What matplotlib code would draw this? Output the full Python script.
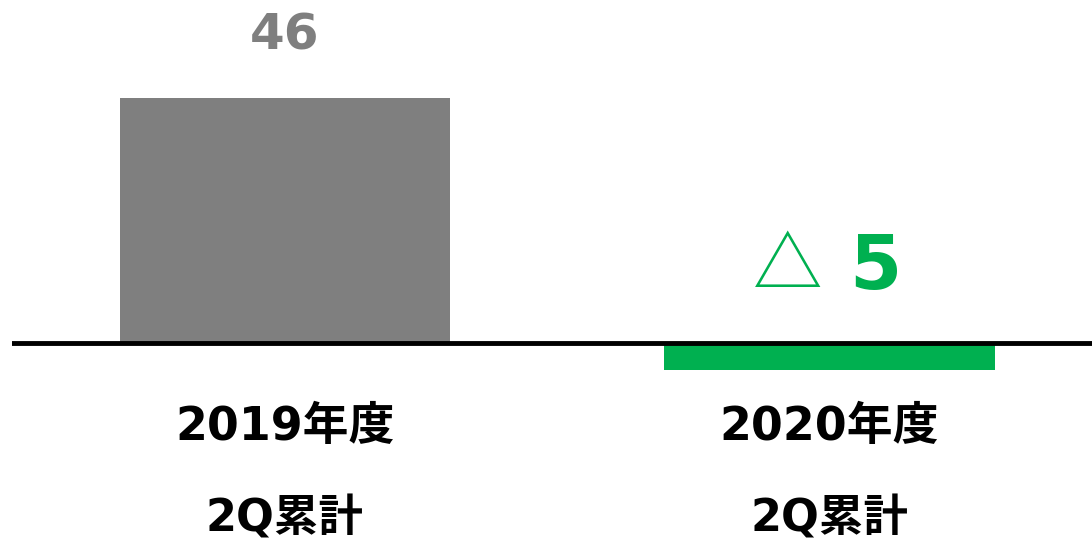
import matplotlib
matplotlib.use('Agg')
import matplotlib.pyplot as plt

# latin digits in a wide sans, kanji fall back to Noto CJK
plt.rcParams['font.family'] = ['DejaVu Sans', 'Noto Sans CJK JP']

cat_line1 = ['2019年度', '2020年度']
cat_line2 = ['2Q累計', '2Q累計']
values = [46, -5]
value_labels = ['46', '5']
colors = ['#7F7F7F', '#00B050']

fig = plt.figure(figsize=(10.92, 5.41), dpi=100)
ax = fig.add_axes([12 / 1092, 0, 1 - 12 / 1092, 1])
ax.axis('off')

x = range(len(values))
ax.bar(x, values, 0.606, color=colors)
ax.axhline(0, color='black', linewidth=3.5, zorder=3)

ax.set_xlim(-0.501, 1.482)
ax.set_ylim(-37.2, 64.4)

# value labels
ax.text(0, values[0] + 11.8, value_labels[0], ha='center', va='center',
        fontsize=36, fontweight='bold', color=colors[0])
# negative value shown as "△ 5"
ax.text(0.924, 14.0, '△', ha='center', va='center', fontsize=50,
        color=colors[1], family=['Noto Sans CJK JP'])
ax.text(1.085, 14.0, value_labels[1], ha='center', va='center', fontsize=54,
        fontweight='bold', color=colors[1])

for i in x:
    ax.text(i, -15.8, cat_line1[i], ha='center', va='center',
            fontsize=33, fontweight='bold', color='black')
    ax.text(i, -32.9, cat_line2[i], ha='center', va='center',
            fontsize=32, fontweight='bold', color='black')

fig.savefig('out.png', dpi=100)
